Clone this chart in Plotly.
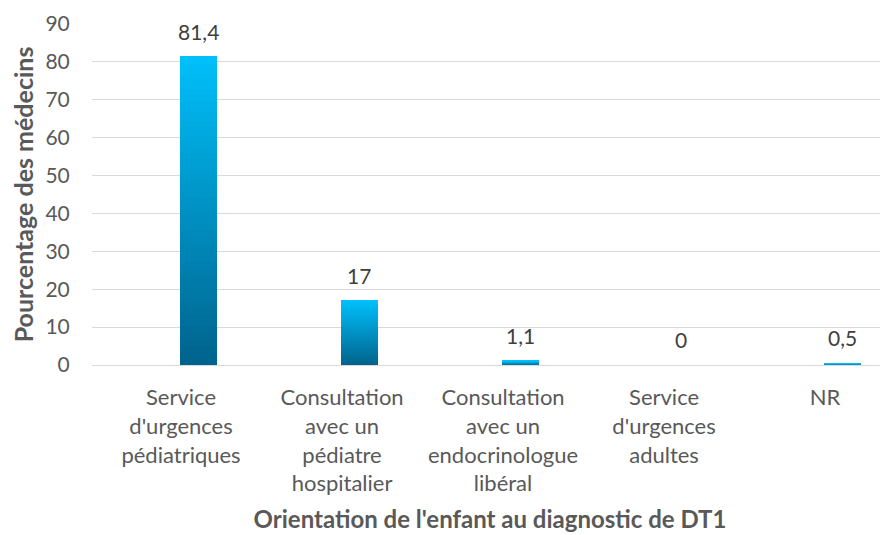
import plotly.graph_objects as go

categories = [
    "Service<br>d'urgences<br>pédiatriques",
    "Consultation<br>avec un<br>pédiatre<br>hospitalier",
    "Consultation<br>avec un<br>endocrinologue<br>libéral",
    "Service<br>d'urgences<br>adultes",
    "NR",
]
values = [81.4, 17, 1.1, 0, 0.5]
value_labels = ["81,4", "17", "1,1", "0", "0,5"]
y_ticks = [0, 10, 20, 30, 40, 50, 60, 70, 80, 90]

FONT = "Lato"
GREY = "#595959"
BAR_OFFSET = 0.108
BAR_WIDTH = 0.23
N_SEG = 48
top_rgb = (0, 192, 250)
bottom_rgb = (0, 98, 140)

idx = list(range(len(categories)))
xb = [i + BAR_OFFSET for i in idx]

fig = go.Figure()
for k in range(N_SEG):
    t = (k + 0.5) / N_SEG
    c = tuple(round(bottom_rgb[j] + (top_rgb[j] - bottom_rgb[j]) * t) for j in range(3))
    color = "rgb(%d,%d,%d)" % c
    fig.add_trace(go.Bar(
        x=xb,
        y=[v / N_SEG * 1.02 if v > 0 else 0 for v in values],
        base=[v * k / N_SEG for v in values],
        width=BAR_WIDTH,
        marker=dict(color=color, line=dict(width=0)),
        hoverinfo="skip",
        showlegend=False,
    ))

for x, v, lab in zip(xb, values, value_labels):
    fig.add_annotation(
        x=x, y=v, text=lab, showarrow=False,
        yanchor="bottom", yshift=11,
        font=dict(family=FONT, size=21, color="#404040"),
    )

fig.update_layout(
    width=888, height=535,
    margin=dict(l=84, r=8, t=16, b=178),
    paper_bgcolor="white", plot_bgcolor="white",
    barmode="overlay", bargap=0,
    font=dict(family=FONT, size=21, color=GREY),
    xaxis=dict(
        range=[-0.553, 4.391],
        tickmode="array", tickvals=idx, ticktext=categories,
        showgrid=False, zeroline=False, showline=False,
        ticks="outside", ticklen=13, tickcolor="rgba(0,0,0,0)",
        tickfont=dict(family=FONT, size=22, color=GREY),
        title=dict(text="<b>Orientation de l'enfant au diagnostic de DT1</b>",
                   font=dict(family=FONT, size=24, color=GREY), standoff=15),
        automargin=False,
    ),
    yaxis=dict(
        range=[0, 90],
        tickmode="array", tickvals=y_ticks,
        showgrid=True, gridcolor="#d9d9d9", gridwidth=1,
        zeroline=True, zerolinecolor="#d9d9d9", zerolinewidth=1,
        showline=False,
        ticks="outside", ticklen=17, tickcolor="rgba(0,0,0,0)",
        tickfont=dict(family=FONT, size=21, color=GREY),
        title=dict(text="<b>Pourcentage des médecins</b>",
                   font=dict(family=FONT, size=25, color=GREY), standoff=6),
        automargin=False,
    ),
)

fig.write_html("out.html")
